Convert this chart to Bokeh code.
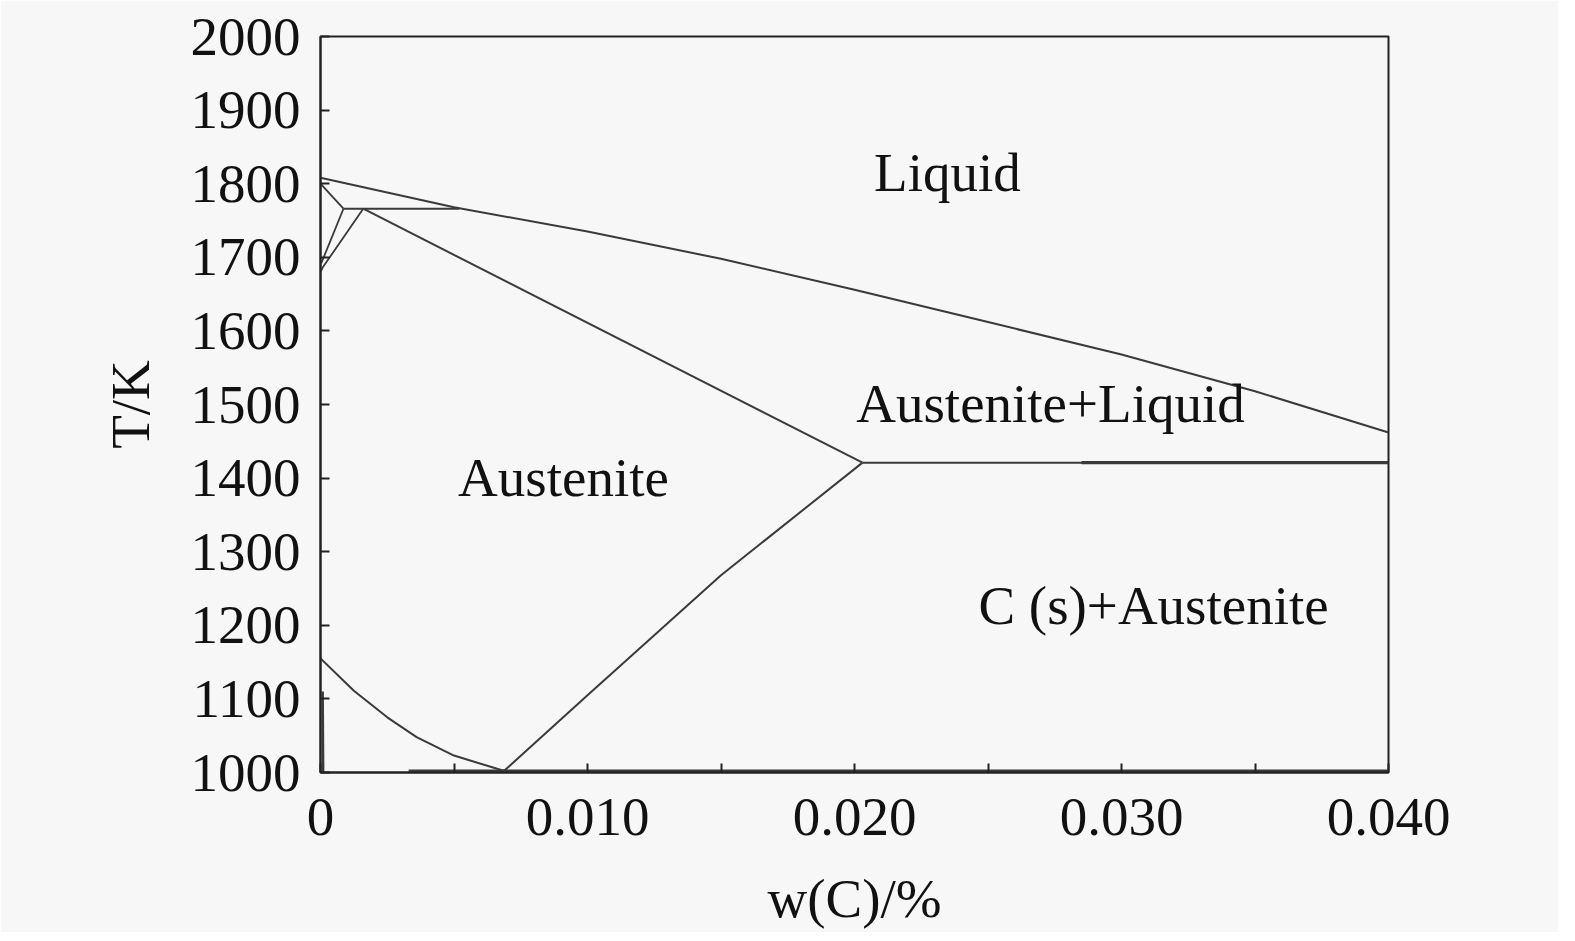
from bokeh.plotting import figure
from bokeh.models import Range1d, FixedTicker, Label
from bokeh.embed import file_html
from bokeh.resources import INLINE

# ---- data (w(C)/% , T/K) ----
liq_x = [0, 0.005, 0.010, 0.015, 0.020, 0.025, 0.030, 0.035, 0.040]
liq_T = [1808, 1768, 1735, 1698, 1656, 1612, 1568, 1518, 1462]

peri_x = [0.00086, 0.0052]
peri_T = [1766, 1766]

dsol_x = [0.0, 0.00086]
dsol_T = [1800, 1766]

dbound_x = [0.00086, 0.00003]
dbound_T = [1766, 1692]

gbound_x = [0.0016, 0.00008, 0.0]
gbound_T = [1766, 1686, 1680]

sol_x = [0.0016, 0.0203]
sol_T = [1766, 1421]

eut_x = [0.0203, 0.040]
eut_T = [1421, 1421]
eut2_x = [0.0285, 0.040]
eut2_T = [1421, 1421]

acm_x = [0.0069, 0.010, 0.015, 0.0203]
acm_T = [1003, 1105, 1268, 1421]

a3_x = [0.0, 0.00125, 0.0025, 0.0036, 0.005, 0.0068, 0.0070]
a3_T = [1155, 1111, 1075, 1048, 1023, 1003, 1003]

eutd_x = [0.0033, 0.040]
eutd_T = [1002, 1002]

fer_x = [0.00008, 0.0001]
fer_T = [1110, 1000]

x_ticks = [0, 0.005, 0.010, 0.015, 0.020, 0.025, 0.030, 0.035, 0.040]
x_tick_labels = ["0", "", "0.010", "", "0.020", "", "0.030", "", "0.040"]
y_ticks = [1000, 1100, 1200, 1300, 1400, 1500, 1600, 1700, 1800, 1900, 2000]

regions = ["Liquid", "Austenite+Liquid", "Austenite", "C (s)+Austenite"]
region_x = [0.02348, 0.02734, 0.0091, 0.0312]
region_T = [1815, 1501, 1401, 1227]

x_title = "w(C)/%"
y_title = "T/K"

BG = "#f7f7f7"
LC = "#3a3a3a"
FONT = "Liberation Serif"
FS = "55px"

p = figure(
    output_backend="svg", toolbar_location=None,
    frame_width=1068, frame_height=736,
    min_border_left=320, min_border_top=36, min_border_right=170, min_border_bottom=160,
    x_range=Range1d(0, 0.040), y_range=Range1d(1000, 2000),
    background_fill_color=BG, border_fill_color=BG,
)
p.grid.visible = False
p.outline_line_color = "#222222"
p.outline_line_width = 2

for ax in (p.xaxis[0], p.yaxis[0]):
    ax.axis_line_color = "#222222"
    ax.axis_line_width = 2
    ax.major_tick_in = 9
    ax.major_tick_out = 0
    ax.major_tick_line_color = "#222222"
    ax.major_tick_line_width = 2
    ax.minor_tick_line_color = None
    ax.major_label_text_font = FONT
    ax.major_label_text_font_size = FS
    ax.major_label_text_color = "#111111"
    ax.axis_label_text_font = FONT
    ax.axis_label_text_font_size = FS
    ax.axis_label_text_font_style = "normal"
    ax.axis_label_text_color = "#111111"

p.xaxis[0].ticker = FixedTicker(ticks=x_ticks)
p.xaxis[0].major_label_overrides = {t: l for t, l in zip(x_ticks, x_tick_labels)}
p.xaxis[0].major_label_standoff = 26
p.xaxis[0].axis_label = x_title
p.xaxis[0].axis_label_standoff = 30
p.yaxis[0].ticker = FixedTicker(ticks=y_ticks)
p.yaxis[0].major_label_overrides = {t: str(t) for t in y_ticks}
p.yaxis[0].major_label_standoff = 20
p.yaxis[0].axis_label = y_title
p.yaxis[0].axis_label_standoff = 27

lines = [
    (liq_x, liq_T, 2.0), (peri_x, peri_T, 2.0), (dsol_x, dsol_T, 1.8),
    (dbound_x, dbound_T, 1.8), (gbound_x, gbound_T, 1.8), (sol_x, sol_T, 2.0),
    (eut_x, eut_T, 2.0), (eut2_x, eut2_T, 3.2), (acm_x, acm_T, 2.0),
    (a3_x, a3_T, 2.0), (eutd_x, eutd_T, 3.2), (fer_x, fer_T, 2.5),
]
for xs, ys, w in lines:
    p.line(xs, ys, line_color=LC, line_width=w)

for t, x, y in zip(regions, region_x, region_T):
    p.add_layout(Label(x=x, y=y, text=t, text_align="center", text_baseline="middle",
                       text_font=FONT, text_font_size=FS, text_color="#111111"))

html = file_html(p, INLINE)
html = html.replace("<body>", '<body style="background:%s">' % BG, 1)
open("out.html", "w").write(html)
